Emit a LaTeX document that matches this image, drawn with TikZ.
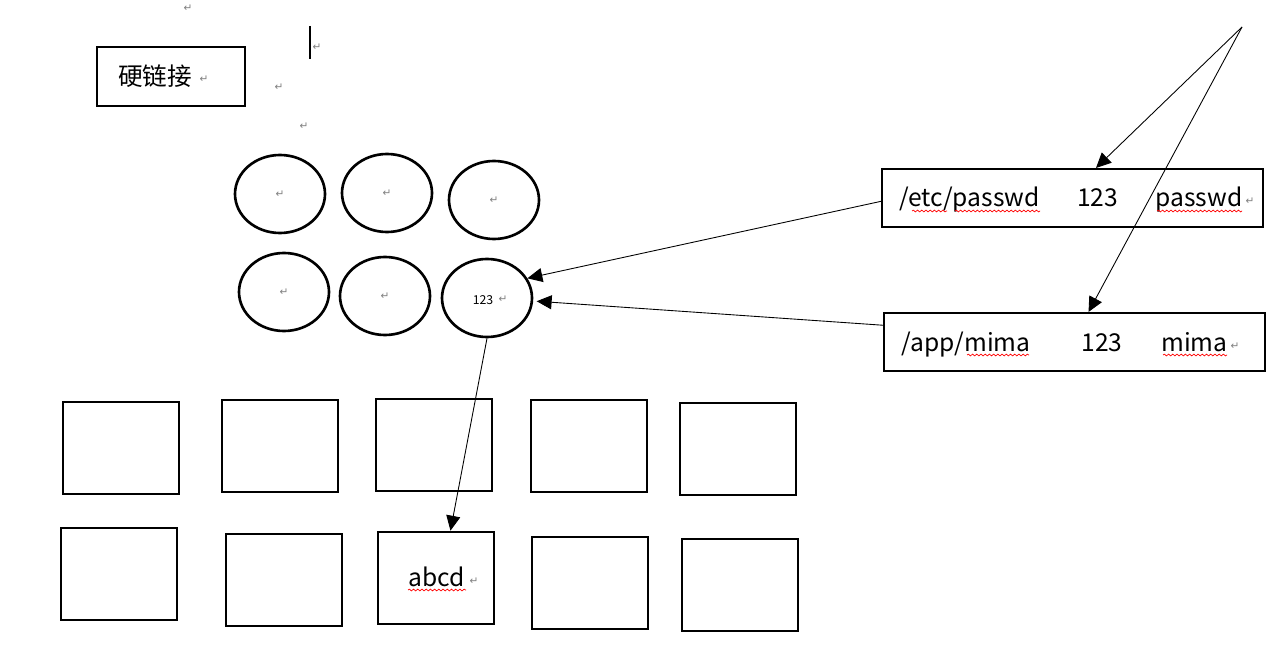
\documentclass[tikz,border=0pt]{standalone}
\usepackage{fontspec}
\setmainfont{Noto Sans CJK SC}
\newfontfamily\retfont{DejaVu Sans}
\usetikzlibrary{arrows.meta,shapes.geometric,decorations.pathmorphing}

\begin{document}
\begin{tikzpicture}[
            x=0.2mm, y=-0.2mm,
            block/.style={draw, line width=1.5pt, inner sep=0pt, minimum width=23.2mm, minimum height=18.4mm},
            inode/.style={draw, ellipse, line width=1.5pt, inner sep=0pt, minimum width=18mm, minimum height=15.6mm},
            entry/.style={draw, line width=1.2pt, inner sep=0pt, minimum width=76.2mm, minimum height=11.6mm},
            lbl/.style={font=\fontsize{14}{16}\selectfont, inner sep=0pt},
            ret/.style={font=\retfont\fontsize{6}{6}\selectfont, text=gray, inner sep=0pt},
            squig/.style={draw=red, line width=0.4pt, decorate, decoration={snake, amplitude=0.5pt, segment length=2.4pt}},
            arr/.style={-{Triangle[length=8.5pt,width=8pt]}, line width=0.5pt}
        ]
        \useasboundingbox (0,0) rectangle (1285,665);

        % title
        \node[draw, line width=1.2pt, minimum width=29.6mm, minimum height=11.8mm] (hard) at (171,76.5) {};
        \node[lbl] (hardt) at (155,76) {硬链接};
        \node[ret] (r0) at (204,79) {↵};
        \node[ret] (r1) at (188,8) {↵};
        \node[ret] (r2) at (317,47) {↵};
        \node[ret] (r3) at (279,87) {↵};
        \node[ret] (r4) at (304,126) {↵};
        \draw[line width=0.6pt] (310,26) -- (310,59);

        % inodes
        \node[inode] (c1) at (280,194) {};
        \node[inode] (c2) at (387,193) {};
        \node[inode] (c3) at (494,200) {};
        \node[inode] (c4) at (284,292) {};
        \node[inode] (c5) at (385,296) {};
        \node[inode] (c6) at (487,298) {};
        \node[ret] at (c1) {↵};
        \node[ret] at (c2) {↵};
        \node[ret] at (c3) {↵};
        \node[ret] at (c4) {↵};
        \node[ret] at (c5) {↵};
        \node[font=\fontsize{7}{8}\selectfont, inner sep=0pt] (c6t) at (483,300) {123};
        \node[ret] (r6) at (503,299) {↵};

        % data blocks
        \node[block] (b1) at (121,448) {};
        \node[block] (b2) at (280,446) {};
        \node[block] (b3) at (434,445) {};
        \node[block] (b4) at (589,446) {};
        \node[block] (b5) at (738,449) {};
        \node[block] (b6) at (119,574) {};
        \node[block] (b7) at (284,580) {};
        \node[block] (b8) at (436,578) {};
        \node[block] (b9) at (590,583) {};
        \node[block] (b10) at (740,585) {};
        \node[lbl, anchor=base] (abcd) at (437,586) {abcd};
        \node[ret] (r8) at (474,581) {↵};
        \draw[squig] (408,590) -- (466,590);

        % directory entries
        \node[entry] (etc) at (1072.5,198) {};
        \node[lbl, anchor=base] (etcpath) at (969.5,207) {/etc/passwd};
        \node[lbl, anchor=base] (etcnum) at (1097.5,207) {123};
        \node[lbl, anchor=base] (etcname) at (1199,207) {passwd};
        \node[ret] (r9) at (1250,201) {↵};
        \draw[squig] (912,211) -- (947,211);
        \draw[squig] (955,211) -- (1040,211);
        \draw[squig] (1157,211) -- (1242,211);

        \node[entry] (app) at (1074.5,342) {};
        \node[lbl, anchor=base] (apppath) at (966,351) {/app/mima};
        \node[lbl, anchor=base] (appnum) at (1102,351) {123};
        \node[lbl, anchor=base] (appname) at (1194.5,351) {mima};
        \node[ret] (r10) at (1235,346) {↵};
        \draw[squig] (967,355) -- (1029,355);
        \draw[squig] (1163,355) -- (1227,355);

        % links
        \coordinate (src) at (1242,27);
        \draw[arr] (src) -- (etc.52);
        \draw[arr] (src) -- (app.65);
        \draw[arr] (etc.181) -- (c6.26);
        \draw[arr] (app.175) -- ([xshift=2pt]c6.-4);
        \draw[arr] (c6.south) -- (b8.73);
    \end{tikzpicture}
\end{document}
